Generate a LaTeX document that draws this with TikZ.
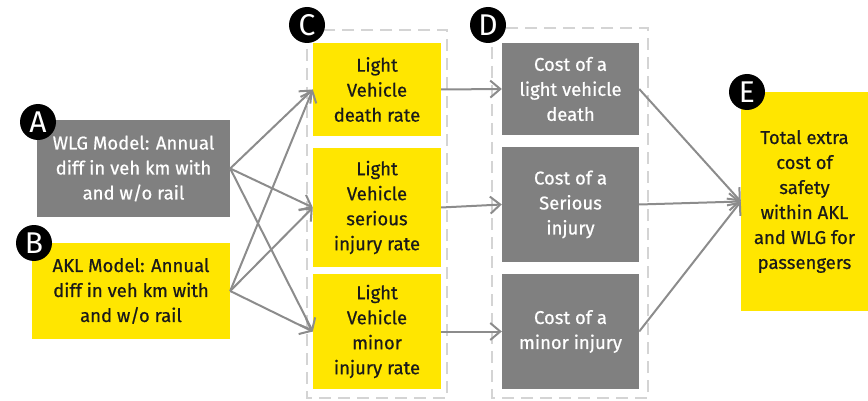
\documentclass[tikz,border=0pt]{standalone}
\usepackage{fontspec}
\setmainfont{Fira Sans}
\newfontfamily\boxfont{Fira Sans}[FakeBold=0.6]
\usetikzlibrary{arrows.meta}
\definecolor{eyyellow}{HTML}{FFE600}
\definecolor{eygray}{HTML}{808080}
\definecolor{linegray}{HTML}{8C8C8C}
\definecolor{dashgray}{HTML}{D4D4D4}
\definecolor{inkdark}{HTML}{1A1A1A}
\tikzset{
  box/.style={rectangle, inner sep=0pt, align=center,
    font=\boxfont\fontsize{18.5}{25}\selectfont},
  ybox/.style={box, fill=eyyellow, text=inkdark},
  gbox/.style={box, fill=eygray, text=white},
  badge/.style={circle, fill=black, text=white, minimum size=36pt, inner sep=0pt,
    font=\fontsize{30}{30}\selectfont},
  group/.style={draw=dashgray, line width=2pt, dash pattern=on 12pt off 7pt},
  flow/.style={draw=linegray, line width=2pt,
    -{Straight Barb[length=10pt,width=17pt,line width=2pt]}},
}
\begin{document}
\begin{tikzpicture}[x=1pt,y=-1pt]
\useasboundingbox (0,0) rectangle (868,401);

% dashed groups
\draw[group] (307,30) rectangle (447,398);
\draw[group] (492,28) rectangle (648,398);

% inputs
\node[gbox, minimum width=193pt, minimum height=97pt] (A) at (133.5,168.5)
  {WLG Model: Annual\\diff in veh km with\\and w/o rail};
\node[ybox, minimum width=198pt, minimum height=96pt] (B) at (131,291)
  {AKL Model: Annual\\diff in veh km with\\and w/o rail};

% rates
\node[ybox, minimum width=128pt, minimum height=93pt] (C1) at (377,89.5)
  {Light\\Vehicle\\death rate};
\node[ybox, minimum width=128pt, minimum height=119pt] (C2) at (377,207.5)
  {Light\\Vehicle\\serious\\injury rate};
\node[ybox, minimum width=128pt, minimum height=115pt] (C3) at (377,331.5)
  {Light\\Vehicle\\minor\\injury rate};

% costs
\node[gbox, minimum width=137pt, minimum height=92pt] (D1) at (570.5,89)
  {Cost of a\\light vehicle\\death};
\node[gbox, minimum width=137pt, minimum height=115pt] (D2) at (570.5,204.5)
  {Cost of a\\Serious\\injury};
\node[gbox, minimum width=137pt, minimum height=115pt] (D3) at (570.5,331.5)
  {Cost of a\\minor injury};

% total
\node[ybox, minimum width=127pt, minimum height=219pt] (E) at (804.5,201.5)
  {Total extra\\cost of\\safety\\within AKL\\and WLG for\\passengers};

% connectors
\foreach \s in {A,B}
  \foreach \t in {C1,C2,C3}
    \draw[flow] (\s.east) -- (\t.west);
\draw[flow] (C1.east) -- (D1.west);
\draw[flow] (C2.east) -- (D2.west);
\draw[flow] (C3.east) -- (D3.west);
\foreach \s in {D1,D2,D3}
  \draw[flow] (\s.east) -- (E.west);

% badges
\node[badge] (bA) at (38,122) {A};
\node[badge] (bB) at (34,243) {B};
\node[badge] (bC) at (307,25) {C};
\node[badge] (bD) at (488,25) {D};
\node[badge] (bE) at (747,92) {E};
\end{tikzpicture}
\end{document}
